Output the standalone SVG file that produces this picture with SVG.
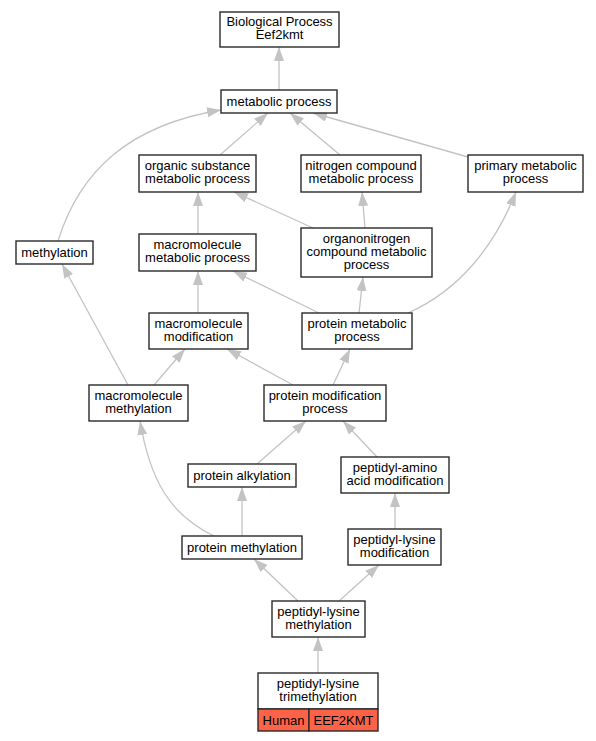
<svg xmlns="http://www.w3.org/2000/svg" width="596" height="741" viewBox="0 0 596 741">
<defs>
<style>
.n rect{fill:#ffffff;stroke:#2a2a2a;stroke-width:1.4}
.n text,.c text{font-family:"Liberation Sans",Arial,sans-serif;font-size:13px;fill:#000;text-anchor:middle}
.e path{fill:none;stroke:#c3c3c3;stroke-width:1.3;marker-end:url(#ah)}
.c rect.g{fill:#ff6347;stroke:#2a2a2a;stroke-width:1.4}
</style>
<marker id="ah" markerUnits="userSpaceOnUse" markerWidth="15" markerHeight="11" refX="14" refY="5" orient="auto">
<path d="M0,0 L14,5 L0,10 z" fill="#c3c3c3"/>
</marker>
</defs>
<rect width="596" height="741" fill="#ffffff"/>
<g id="edges" class="e">
<path d="M279,90 L279,47"/>
<path d="M220,155 L268,113"/>
<path d="M340,155 L290,113"/>
<path d="M468,157 L313,113"/>
<path d="M58,241 C80,170 130,125 221,110"/>
<path d="M198,234 L198,192"/>
<path d="M313,228 L234,192"/>
<path d="M365,228 L362,192"/>
<path d="M408,313 C460,290 495,245 516,192"/>
<path d="M198,313 L198,271"/>
<path d="M319,313 L233,271"/>
<path d="M359,313 L363,277"/>
<path d="M128,385 L62,264"/>
<path d="M154,385 L185,349"/>
<path d="M293,385 L227,349"/>
<path d="M333,385 L350,349"/>
<path d="M257,464 L306,421"/>
<path d="M377,457 L343,421"/>
<path d="M214,536 C170,515 150,480 140,421"/>
<path d="M242,536 L242,487"/>
<path d="M395,529 L395,493"/>
<path d="M298,601 L254,559"/>
<path d="M339,601 L379,565"/>
<path d="M318,673 L318,637"/>
</g>
<g id="n_bp" class="n"><rect x="220" y="12" width="119" height="35"/><text x="279.5" y="26">Biological Process</text><text x="279.5" y="39">Eef2kmt</text></g>
<g id="n_metabolic" class="n"><rect x="221" y="90" width="116" height="23"/><text x="279" y="105.5">metabolic process</text></g>
<g id="n_organic" class="n"><rect x="139" y="155" width="117" height="37"/><text x="197.5" y="170">organic substance</text><text x="197.5" y="183">metabolic process</text></g>
<g id="n_nitrogen" class="n"><rect x="301" y="155" width="120" height="37"/><text x="361" y="170">nitrogen compound</text><text x="361" y="183">metabolic process</text></g>
<g id="n_primary" class="n"><rect x="468" y="155" width="115" height="37"/><text x="525.5" y="170">primary metabolic</text><text x="525.5" y="183">process</text></g>
<g id="n_methylation" class="n"><rect x="16" y="241" width="77" height="23"/><text x="54.5" y="256.5">methylation</text></g>
<g id="n_macromet" class="n"><rect x="139" y="234" width="117" height="37"/><text x="197.5" y="249">macromolecule</text><text x="197.5" y="262">metabolic process</text></g>
<g id="n_organonitrogen" class="n"><rect x="301" y="228" width="131" height="49"/><text x="366.5" y="242.5">organonitrogen</text><text x="366.5" y="255.5">compound metabolic</text><text x="366.5" y="268.5">process</text></g>
<g id="n_macromod" class="n"><rect x="149" y="313" width="99" height="36"/><text x="198.5" y="327.5">macromolecule</text><text x="198.5" y="340.5">modification</text></g>
<g id="n_protmet" class="n"><rect x="302" y="313" width="110" height="36"/><text x="357" y="327.5">protein metabolic</text><text x="357" y="340.5">process</text></g>
<g id="n_macromethyl" class="n"><rect x="89" y="385" width="99" height="36"/><text x="138.5" y="399.5">macromolecule</text><text x="138.5" y="412.5">methylation</text></g>
<g id="n_protmod" class="n"><rect x="264" y="385" width="122" height="36"/><text x="325" y="399.5">protein modification</text><text x="325" y="412.5">process</text></g>
<g id="n_protalk" class="n"><rect x="188" y="464" width="108" height="23"/><text x="242" y="480">protein alkylation</text></g>
<g id="n_pepamino" class="n"><rect x="341" y="457" width="108" height="36"/><text x="395" y="471.5">peptidyl-amino</text><text x="395" y="484.5">acid modification</text></g>
<g id="n_protmethyl" class="n"><rect x="182" y="536" width="120" height="23"/><text x="242" y="552">protein methylation</text></g>
<g id="n_peplysmod" class="n"><rect x="348" y="529" width="93" height="36"/><text x="394.5" y="543.5">peptidyl-lysine</text><text x="394.5" y="556.5">modification</text></g>
<g id="n_peplysmeth" class="n"><rect x="272" y="601" width="93" height="36"/><text x="318.5" y="615.5">peptidyl-lysine</text><text x="318.5" y="628.5">methylation</text></g>
<g id="n_trimeth" class="n c"><rect x="258" y="673" width="120" height="36"/><text x="318" y="687.5">peptidyl-lysine</text><text x="318" y="700.5">trimethylation</text><rect class="g" x="258" y="709" width="51" height="22"/><rect class="g" x="309" y="709" width="69" height="22"/><text x="283.5" y="724.5">Human</text><text x="343.5" y="724.5">EEF2KMT</text></g>
</svg>
